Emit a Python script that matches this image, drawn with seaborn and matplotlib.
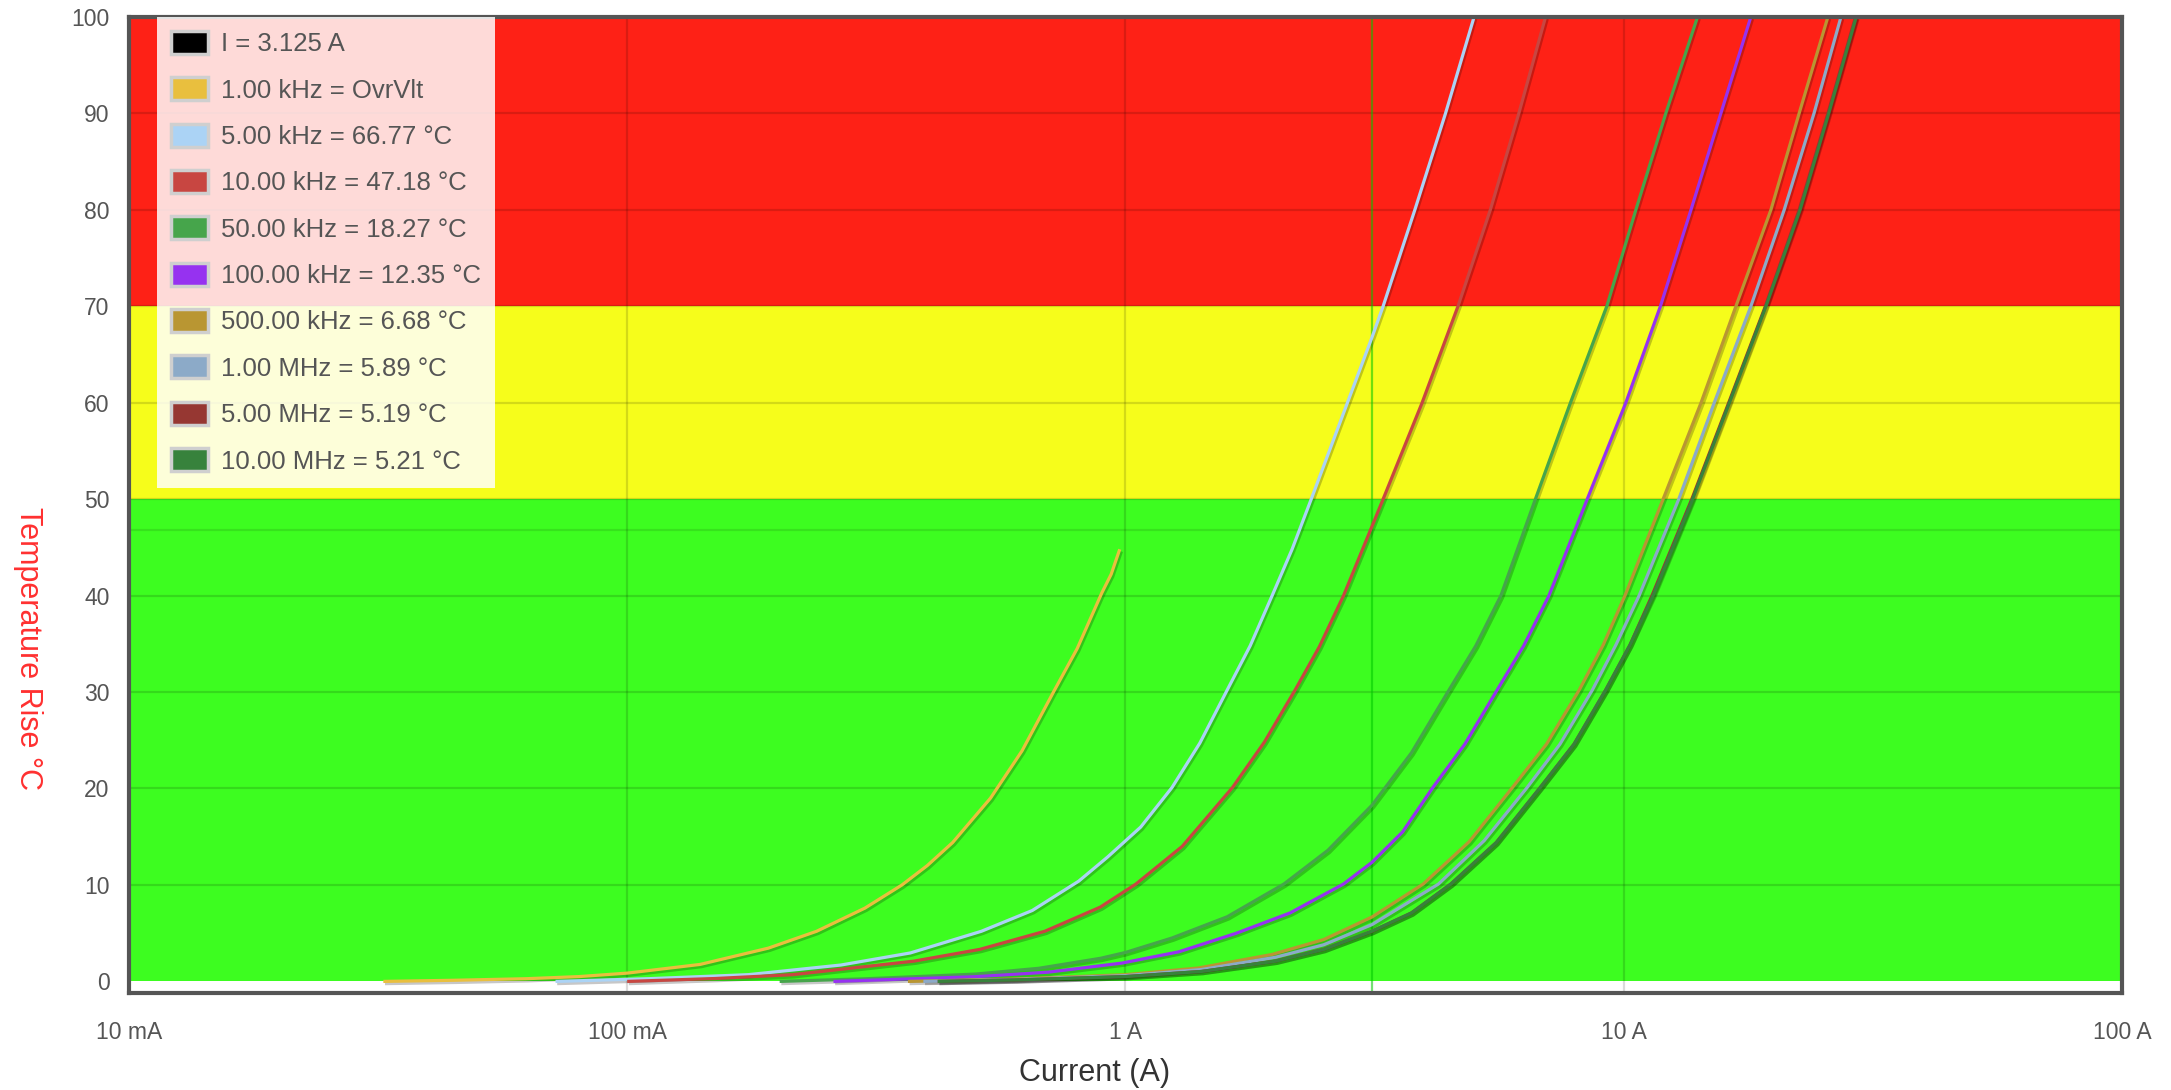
import numpy as np
import pandas as pd
import seaborn as sns
import matplotlib
matplotlib.use('Agg')
import matplotlib.pyplot as plt
import matplotlib.patheffects as pe
from matplotlib.patches import Patch

# marker current and the faint reference temperature line
marker_current = 3.125
marker_temp = 46.8

# curves: current (A) and temperature rise (degC)
i_1k = [0.0324, 0.045, 0.0626, 0.08, 0.1, 0.14, 0.192, 0.24, 0.30, 0.356, 0.40, 0.45, 0.536, 0.62, 0.717, 0.80, 0.897, 0.936, 0.974]
t_1k = [0.0, 0.12, 0.28, 0.5, 0.86, 1.76, 3.45, 5.2, 7.6, 10.0, 12.0, 14.4, 19.0, 23.9, 30.0, 34.5, 40.3, 42.2, 44.8]

i_5k = [0.0718, 0.11, 0.175, 0.2685, 0.37, 0.514, 0.65, 0.806, 0.921, 1.073, 1.24, 1.41, 1.60, 1.78, 1.97, 2.16, 2.36, 2.79, 3.125, 3.29, 3.81, 4.39, 5.01]
t_5k = [0.0, 0.28, 0.7, 1.7, 2.95, 5.2, 7.35, 10.4, 12.9, 16.0, 20.1, 24.7, 30.2, 34.8, 40.0, 44.8, 50.0, 60.0, 66.77, 70.0, 80.0, 90.0, 100.0]

i_10k = [0.1, 0.15, 0.215, 0.376, 0.51, 0.689, 0.89, 1.05, 1.3, 1.64, 1.9, 2.19, 2.45, 2.74, 3.125, 3.29, 3.94, 4.65, 5.40, 6.16, 6.97]
t_10k = [0.0, 0.3, 0.7, 2.1, 3.32, 5.2, 7.7, 10.1, 14.0, 20.1, 24.8, 30.2, 34.7, 40.0, 47.18, 50.0, 60.0, 70.0, 80.0, 90.0, 100.0]

i_50k = [0.2023, 0.30, 0.5, 0.67, 0.892, 1.0, 1.24, 1.6, 2.08, 2.55, 3.125, 3.75, 4.46, 5.05, 5.67, 6.65, 7.82, 9.25, 10.58, 12.15, 14.07]
t_50k = [0.0, 0.27, 0.76, 1.36, 2.4, 3.0, 4.5, 6.7, 10.1, 13.6, 18.27, 23.7, 30.2, 34.8, 40.0, 50.0, 60.0, 70.0, 80.0, 90.0, 100.0]

i_100k = [0.2594, 0.5, 0.7, 0.984, 1.28, 1.67, 2.14, 2.74, 3.125, 3.6, 4.14, 4.8, 5.57, 6.3, 7.08, 8.45, 10.1, 11.85, 13.65, 15.67, 18.0]
t_100k = [0.0, 0.49, 0.96, 1.9, 3.07, 5.0, 7.1, 10.1, 12.35, 15.5, 20.1, 24.6, 30.2, 34.8, 40.0, 50.0, 60.0, 70.0, 80.0, 90.0, 100.0]

i_500k = [0.366, 0.6, 1.0, 1.4, 1.97, 2.5, 3.125, 3.96, 4.9, 5.98, 7.0, 8.14, 9.1, 10.06, 12.0, 14.3, 16.8, 19.75, 22.5, 25.7]
t_500k = [0.0, 0.25, 0.7, 1.39, 2.8, 4.34, 6.68, 10.1, 14.5, 20.1, 24.6, 30.2, 34.9, 40.0, 50.0, 60.0, 70.0, 80.0, 90.0, 100.0]

i_1M = [0.393, 0.6, 1.0, 1.42, 2.0, 2.5, 3.125, 4.25, 5.25, 6.4, 7.45, 8.65, 9.65, 10.74, 12.9, 15.2, 18.0, 21.0, 24.1, 27.3]
t_1M = [0.0, 0.2, 0.6, 1.23, 2.5, 3.8, 5.89, 10.1, 14.6, 20.1, 24.6, 30.2, 34.9, 40.0, 50.0, 60.0, 70.0, 80.0, 90.0, 100.0]

i_5M = [0.42, 0.6, 1.0, 1.42, 2.0, 2.5, 3.125, 3.75, 4.5, 5.55, 6.8, 7.95, 9.2, 10.3, 11.4, 13.7, 16.25, 19.25, 22.5, 25.7, 29.2]
t_5M = [0.0, 0.15, 0.5, 1.03, 2.1, 3.32, 5.19, 7.1, 10.1, 14.4, 20.1, 24.6, 30.2, 34.9, 40.0, 50.0, 60.0, 70.0, 80.0, 90.0, 100.0]

i_10M = [0.42, 0.6, 1.0, 1.42, 2.0, 2.5, 3.125, 3.75, 4.5, 5.55, 6.8, 7.95, 9.2, 10.3, 11.45, 13.75, 16.3, 19.3, 22.6, 25.8, 29.3]
t_10M = [0.0, 0.15, 0.5, 1.03, 2.1, 3.32, 5.21, 7.1, 10.1, 14.4, 20.1, 24.6, 30.2, 34.9, 40.0, 50.0, 60.0, 70.0, 80.0, 90.0, 100.0]

curves = [
    (i_1k, t_1k, '#e9bf3e', '1.00 kHz = OvrVlt'),
    (i_5k, t_5k, '#abd3f5', '5.00 kHz = 66.77 °C'),
    (i_10k, t_10k, '#c84641', '10.00 kHz = 47.18 °C'),
    (i_50k, t_50k, '#46a54b', '50.00 kHz = 18.27 °C'),
    (i_100k, t_100k, '#9632f0', '100.00 kHz = 12.35 °C'),
    (i_500k, t_500k, '#b99632', '500.00 kHz = 6.68 °C'),
    (i_1M, t_1M, '#8caac8', '1.00 MHz = 5.89 °C'),
    (i_5M, t_5M, '#963732', '5.00 MHz = 5.19 °C'),
    (i_10M, t_10M, '#37823c', '10.00 MHz = 5.21 °C'),
]

# temperature zones
zone_bounds = [(0, 50), (50, 70), (70, 100)]
zone_colors = ['#3dfd20', '#f6fd1b', '#fe2116']

x_ticks = [0.01, 0.1, 1, 10, 100]
x_ticklabels = ['10 mA', '100 mA', '1 A', '10 A', '100 A']
y_ticks = list(range(0, 101, 10))

sns.set_theme(style='white')
plt.rcParams['font.family'] = ['Liberation Sans', 'DejaVu Sans']

fig = plt.figure(figsize=(21.71, 10.90), dpi=100)
ax = fig.add_axes([0.0594, 0.089, 0.9180, 0.8956])

for (lo, hi), c in zip(zone_bounds, zone_colors):
    ax.axhspan(lo, hi, color=c, zorder=0.1, lw=0)

ax.set_xscale('log')
ax.set_xlim(0.01, 100)
ax.set_ylim(-1.2, 100)

# grid lines
for y in y_ticks[1:-1]:
    ax.axhline(y, color='black', alpha=0.14, lw=1.6, zorder=0.3)
for x in x_ticks[1:-1]:
    ax.axvline(x, color='black', alpha=0.14, lw=1.6, zorder=0.3)
ax.axhline(marker_temp, color='black', alpha=0.1, lw=1.6, zorder=0.3)
ax.axvline(marker_current, color='#00c800', alpha=0.55, lw=1.6, zorder=0.4)

shadow = [pe.SimpleLineShadow(offset=(1.2, -1.6), shadow_color='black', alpha=0.22), pe.Normal()]
for cur, temp, color, label in curves:
    df = pd.DataFrame({'current': cur, 'temp': temp})
    sns.lineplot(data=df, x='current', y='temp', color=color, lw=2.3, ax=ax,
                 estimator=None, sort=False, legend=False, zorder=3,
                 path_effects=shadow, solid_capstyle='butt', solid_joinstyle='round')

ax.set_xticks(x_ticks)
ax.set_xticklabels(x_ticklabels)
ax.set_yticks(y_ticks)
ax.minorticks_off()
ax.tick_params(axis='both', length=0, labelsize=16.5, labelcolor='#555555')
ax.tick_params(axis='x', pad=20)
ax.tick_params(axis='y', pad=14)
ax.set_xlabel('')
ax.set_ylabel('')

for s in ax.spines.values():
    s.set_visible(True)
    s.set_color('#555555')
    s.set_linewidth(3.0)
    s.set_zorder(5)

handles = [Patch(facecolor='black', edgecolor='#cfcfcf', lw=2.5, label='I = 3.125 A')]
for cur, temp, color, label in curves:
    handles.append(Patch(facecolor=color, edgecolor='#cfcfcf', lw=2.5, label=label))
leg = ax.legend(handles=handles, loc='upper left', bbox_to_anchor=(0.014, 1.0),
                fontsize=18.5, frameon=True, fancybox=False, framealpha=0.84,
                facecolor='white', edgecolor='none', labelspacing=0.82,
                handlelength=1.45, handleheight=1.0, handletextpad=0.5,
                borderpad=0.55, borderaxespad=0.0)
leg.set_zorder(6)
for t in leg.get_texts():
    t.set_color('#555555')

fig.text(0.504, 0.0156, 'Current (A)', ha='center', va='center', fontsize=22, color='#333333')
fig.text(0.0129, 0.4055, 'Temperature Rise °C', ha='center', va='center', rotation=270,
         fontsize=22, color='#ff3030')

fig.savefig('out.png', dpi=100)
